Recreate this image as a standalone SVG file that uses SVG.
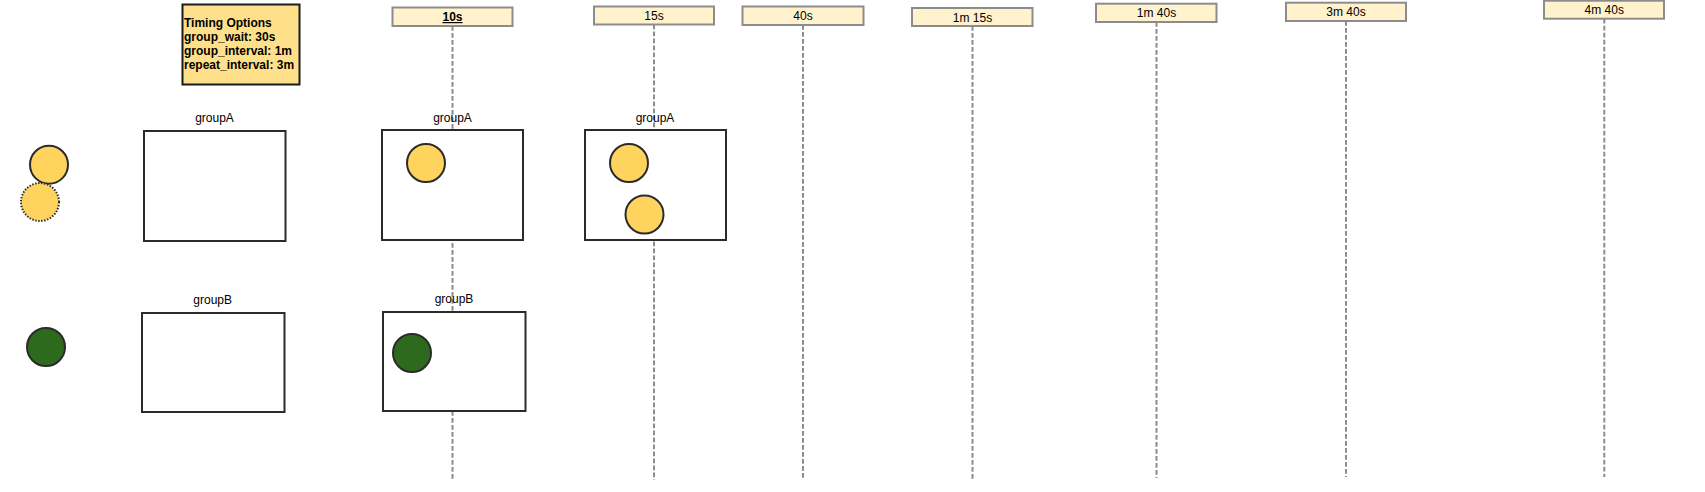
<svg xmlns="http://www.w3.org/2000/svg" width="1705" height="492" viewBox="0 0 1705 492">
<style>
.bg{fill:#ffffff}
.tl{stroke:#8c8c8c;stroke-width:2;stroke-dasharray:4.7 2.3;fill:none}
.tbox{fill:#fff2cc;stroke:#8c8c8c;stroke-width:2}
.tlabel{font-family:"Liberation Sans",Arial,sans-serif;font-size:12px;fill:#000;text-anchor:middle}
.grp{fill:#ffffff;stroke:#2b2b2b;stroke-width:2}
.glabel{font-family:"Liberation Sans",Arial,sans-serif;font-size:12px;fill:#000;text-anchor:middle}
.ya{fill:#ffd45e;stroke:#2b2b2b;stroke-width:2}
.yd{fill:#ffd45e;stroke:#2b2b2b;stroke-width:2;stroke-dasharray:1.5 1.5}
.gb{fill:#2e6a1d;stroke:#2b2b2b;stroke-width:2}
.opt{fill:#ffe08a;stroke:#1a1a1a;stroke-width:2}
.optt{font-family:"Liberation Sans",Arial,sans-serif;font-size:12px;font-weight:bold;fill:#000}
</style>
<rect class="bg" x="0" y="0" width="1705" height="492"/>
<g id="connectors">
<line class="tl" x1="452.5" y1="26" x2="452.5" y2="481"/>
<line class="tl" x1="654" y1="24.5" x2="654" y2="480"/>
<line class="tl" x1="803" y1="25" x2="803" y2="480"/>
<line class="tl" x1="972.5" y1="26" x2="972.5" y2="481"/>
<line class="tl" x1="1156.5" y1="22" x2="1156.5" y2="478"/>
<line class="tl" x1="1346" y1="21" x2="1346" y2="477"/>
<line class="tl" x1="1604.3" y1="18.7" x2="1604.3" y2="477"/>
</g>
<g id="t10s"><rect class="tbox" x="392.5" y="7.5" width="120" height="18.5"/><text class="tlabel" x="452.5" y="21" font-weight="bold" text-decoration="underline">10s</text></g>
<g id="t15s"><rect class="tbox" x="594" y="6.5" width="120" height="18"/><text class="tlabel" x="654" y="20">15s</text></g>
<g id="t40s"><rect class="tbox" x="742.5" y="6.5" width="121" height="18.5"/><text class="tlabel" x="803" y="20">40s</text></g>
<g id="t1m15s"><rect class="tbox" x="912" y="8" width="120.5" height="18"/><text class="tlabel" x="972.5" y="21.5">1m 15s</text></g>
<g id="t1m40s"><rect class="tbox" x="1096" y="3.7" width="120.5" height="18.3"/><text class="tlabel" x="1156.5" y="17">1m 40s</text></g>
<g id="t3m40s"><rect class="tbox" x="1286" y="2.7" width="120" height="18.3"/><text class="tlabel" x="1346" y="16">3m 40s</text></g>
<g id="t4m40s"><rect class="tbox" x="1544" y="0.7" width="120" height="18"/><text class="tlabel" x="1604.3" y="14">4m 40s</text></g>
<g id="timingOptions">
<rect class="opt" x="182.5" y="4.5" width="117" height="80"/>
<text class="optt" x="184" y="27.3">Timing Options</text>
<text class="optt" x="184" y="41">group_wait: 30s</text>
<text class="optt" x="184" y="55">group_interval: 1m</text>
<text class="optt" x="184" y="68.7">repeat_interval: 3m</text>
</g>
<g id="alertA1"><circle class="ya" cx="49" cy="164.7" r="19"/></g>
<g id="alertA2"><circle class="yd" cx="40" cy="202" r="19"/></g>
<g id="alertB"><circle class="gb" cx="46" cy="347" r="19"/></g>
<g id="groupA0"><text class="glabel" x="214.5" y="121.5">groupA</text><rect class="grp" x="144" y="131" width="141.5" height="110"/></g>
<g id="groupA10"><text class="glabel" x="452.5" y="121.5">groupA</text><rect class="grp" x="382" y="130" width="141" height="110"/><circle class="ya" cx="426" cy="163" r="19"/></g>
<g id="groupA15"><text class="glabel" x="655" y="121.5">groupA</text><rect class="grp" x="585" y="130" width="141" height="110"/><circle class="ya" cx="629" cy="163" r="19"/><circle class="ya" cx="644.5" cy="214.5" r="19"/></g>
<g id="groupB0"><text class="glabel" x="212.7" y="304">groupB</text><rect class="grp" x="142" y="313" width="142.5" height="99"/></g>
<g id="groupB10"><text class="glabel" x="454" y="303.3">groupB</text><rect class="grp" x="383" y="312" width="142.5" height="99"/><circle class="gb" cx="412" cy="353" r="19"/></g>
</svg>
